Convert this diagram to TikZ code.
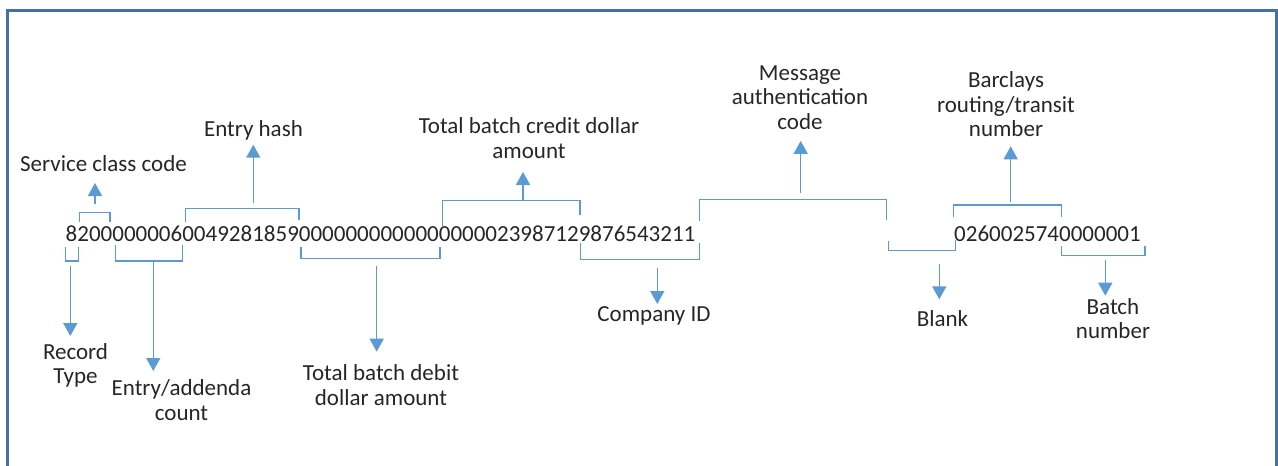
\documentclass[tikz,border=0pt]{standalone}
\usepackage{fontspec}
\setmainfont{Carlito}
\usetikzlibrary{arrows.meta}
\definecolor{framecol}{RGB}{70,114,163}
\definecolor{linkcol}{RGB}{91,155,213}
\definecolor{inkcol}{RGB}{38,38,38}

\begin{document}
\begin{tikzpicture}[x=1pt,y=1pt,
  txt/.style={font=\fontsize{23}{24.4}\selectfont, text=inkcol, inner sep=0pt},
  lbl/.style={txt, align=center, execute at begin node=\strut, execute at end node=\strut},
  digits/.style={txt, anchor=base west},
  brk/.style={draw=linkcol, line width=1.5pt},
  arr/.style={draw=linkcol, line width=1.5pt, -{Triangle[width=14pt,length=13pt]}},
]
\useasboundingbox (0,0) rectangle (1278,-466);
\clip (0,0) rectangle (1278,-466);

% outer frame (runs off the bottom edge)
\draw[framecol, line width=3pt] (7,-480) -- (7,-10) -- (1276,-10) -- (1276,-480);

% batch control record, split into its two printed runs
\node[digits] (rec1) at (65.5,-241.5) {820000000600492818590000000000000000023987129876543211};
\node[digits] (rec2) at (954,-241.5) {0260025740000001};

% field brackets
\draw[brk] (65.7,-247) -- (65.7,-261) -- (78.3,-261) -- (78.3,-247);      % record type
\draw[brk] (79.3,-222) -- (79.3,-212.5) -- (110,-212.5) -- (110,-222);    % service class
\draw[brk] (115.7,-245) -- (115.7,-261) -- (182.7,-261) -- (182.7,-245);  % entry count
\draw[brk] (185.7,-221.7) -- (185.7,-208.3) -- (299,-208.3) -- (299,-220); % entry hash
\draw[brk] (301,-246.7) -- (301,-258.3) -- (440,-258.3) -- (440,-246.7);  % debit
\draw[brk] (442.7,-226.7) -- (442.7,-200.7) -- (580,-200.7) -- (580,-215); % credit
\draw[brk] (580.3,-243.3) -- (580.3,-259.3) -- (699.3,-259.3) -- (699.3,-243.3); % company
\draw[brk] (699.3,-221) -- (699.3,-199.3) -- (886.7,-199.3) -- (886.7,-220); % MAC
\draw[brk] (888.3,-241) -- (888.3,-250.7) -- (955.5,-250.7) -- (955.5,-240); % blank
\draw[brk] (953.3,-217.3) -- (953.3,-205) -- (1061.7,-205) -- (1061.7,-217.3); % routing
\draw[brk] (1061.7,-246) -- (1061.7,-255.7) -- (1145,-255.7) -- (1145,-246); % batch no.

% arrow start points on the brackets
\coordinate (arec)   at (70.3,-266);
\coordinate (acnt)   at (153.3,-261);
\coordinate (adeb)   at (376.7,-265.7);
\coordinate (acid)   at (657.3,-268.3);
\coordinate (ablank) at (939.3,-264.3);
\coordinate (abatch) at (1105.3,-260.3);
\coordinate (ascc)   at (95,-204);
\coordinate (ahash)  at (253.3,-202.7);
\coordinate (acred)  at (523,-200);
\coordinate (amac)   at (800.7,-192.7);
\coordinate (aroute) at (1010.7,-201.7);

% labels below the record
\node[lbl, anchor=north] (lrec)   at (75.5,-342.9)  {Record\\Type};
\node[lbl, anchor=north] (lcnt)   at (181.5,-379.6) {Entry/addenda\\count};
\node[lbl, anchor=north] (ldeb)   at (381,-364.6)   {Total batch debit\\dollar amount};
\node[lbl, anchor=north] (lcid)   at (654,-304.6)   {Company ID};
\node[lbl, anchor=north] (lblank) at (942.5,-309.6) {Blank};
\node[lbl, anchor=north] (lbatch) at (1113,-297.9)  {Batch\\number};

% labels above the record
\node[lbl, anchor=south] (lscc)   at (103.5,-179)   {Service class code};
\node[lbl, anchor=south] (lhash)  at (253.5,-144)   {Entry hash};
\node[lbl, anchor=south] (lcred)  at (529,-165.6)   {Total batch credit dollar\\amount};
\node[lbl, anchor=south] (lmac)   at (800,-136.6)   {Message\\authentication\\code};
\node[lbl, anchor=south] (lroute) at (1006,-144)    {Barclays\\routing/transit\\number};

% pointers
\draw[arr, shorten >=6.9pt]  (arec)   -- (arec |- lrec.north);
\draw[arr, shorten >=8.6pt]  (acnt)   -- (acnt |- lcnt.north);
\draw[arr, shorten >=12.9pt] (adeb)   -- (adeb |- ldeb.north);
\draw[arr, shorten >=0.6pt]  (acid)   -- (acid |- lcid.north);
\draw[arr, shorten >=10.3pt] (ablank) -- (ablank |- lblank.north);
\draw[arr, shorten >=2.2pt]  (abatch) -- (abatch |- lbatch.north);
\draw[arr, shorten >=4pt]    (ascc)   -- (ascc |- lscc.south);
\draw[arr, shorten >=0.7pt]  (ahash)  -- (ahash |- lhash.south);
\draw[arr, shorten >=6.3pt]  (acred)  -- (acred |- lcred.south);
\draw[arr, shorten >=4.3pt]  (amac)   -- (amac |- lmac.south);
\draw[arr, shorten >=2.3pt]  (aroute) -- (aroute |- lroute.south);
\end{tikzpicture}
\end{document}
